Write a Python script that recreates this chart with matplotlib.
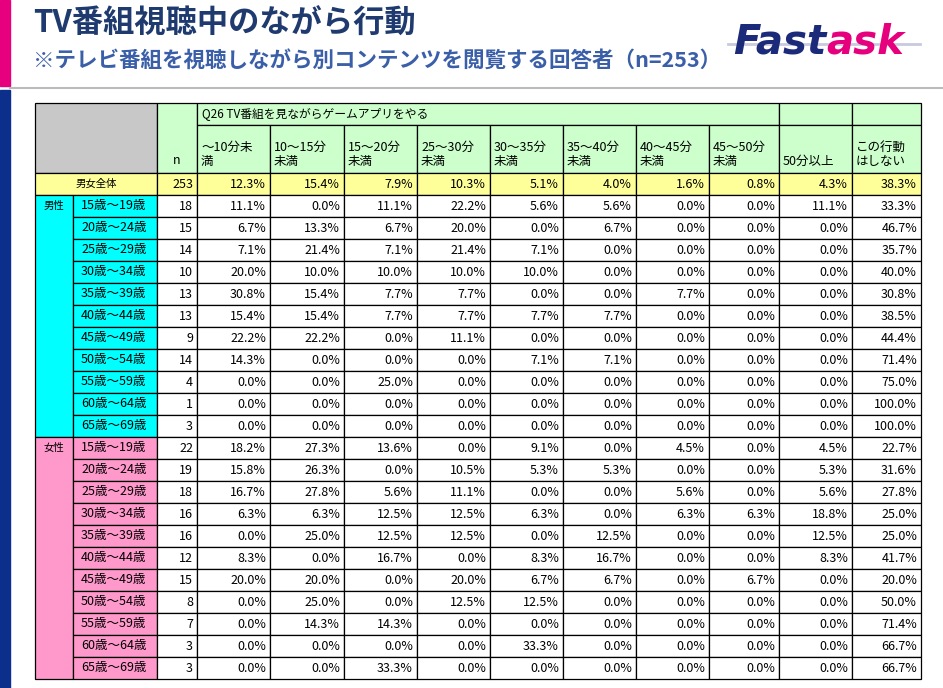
import matplotlib
matplotlib.use("Agg")
import matplotlib.pyplot as plt
from matplotlib.patches import Rectangle

plt.rcParams['font.family'] = ['Noto Sans CJK JP', 'DejaVu Sans']

title = "TV番組視聴中のながら行動"
subtitle = "※テレビ番組を視聴しながら別コンテンツを閲覧する回答者（n=253）"
question = "Q26 TV番組を見ながらゲームアプリをやる"
col_labels = ["～10分未\n満", "10～15分\n未満", "15～20分\n未満", "25～30分\n未満", "30～35分\n未満",
              "35～40分\n未満", "40～45分\n未満", "45～50分\n未満", "50分以上", "この行動\nはしない"]
ages = ["15歳～19歳", "20歳～24歳", "25歳～29歳", "30歳～34歳", "35歳～39歳", "40歳～44歳",
        "45歳～49歳", "50歳～54歳", "55歳～59歳", "60歳～64歳", "65歳～69歳"]
total_n = 253
total_vals = [12.3, 15.4, 7.9, 10.3, 5.1, 4.0, 1.6, 0.8, 4.3, 38.3]
male_n = [18, 15, 14, 10, 13, 13, 9, 14, 4, 1, 3]
male_vals = [
    [11.1, 0.0, 11.1, 22.2, 5.6, 5.6, 0.0, 0.0, 11.1, 33.3],
    [6.7, 13.3, 6.7, 20.0, 0.0, 6.7, 0.0, 0.0, 0.0, 46.7],
    [7.1, 21.4, 7.1, 21.4, 7.1, 0.0, 0.0, 0.0, 0.0, 35.7],
    [20.0, 10.0, 10.0, 10.0, 10.0, 0.0, 0.0, 0.0, 0.0, 40.0],
    [30.8, 15.4, 7.7, 7.7, 0.0, 0.0, 7.7, 0.0, 0.0, 30.8],
    [15.4, 15.4, 7.7, 7.7, 7.7, 7.7, 0.0, 0.0, 0.0, 38.5],
    [22.2, 22.2, 0.0, 11.1, 0.0, 0.0, 0.0, 0.0, 0.0, 44.4],
    [14.3, 0.0, 0.0, 0.0, 7.1, 7.1, 0.0, 0.0, 0.0, 71.4],
    [0.0, 0.0, 25.0, 0.0, 0.0, 0.0, 0.0, 0.0, 0.0, 75.0],
    [0.0, 0.0, 0.0, 0.0, 0.0, 0.0, 0.0, 0.0, 0.0, 100.0],
    [0.0, 0.0, 0.0, 0.0, 0.0, 0.0, 0.0, 0.0, 0.0, 100.0],
]
female_n = [22, 19, 18, 16, 16, 12, 15, 8, 7, 3, 3]
female_vals = [
    [18.2, 27.3, 13.6, 0.0, 9.1, 0.0, 4.5, 0.0, 4.5, 22.7],
    [15.8, 26.3, 0.0, 10.5, 5.3, 5.3, 0.0, 0.0, 5.3, 31.6],
    [16.7, 27.8, 5.6, 11.1, 0.0, 0.0, 5.6, 0.0, 5.6, 27.8],
    [6.3, 6.3, 12.5, 12.5, 6.3, 0.0, 6.3, 6.3, 18.8, 25.0],
    [0.0, 25.0, 12.5, 12.5, 0.0, 12.5, 0.0, 0.0, 12.5, 25.0],
    [8.3, 0.0, 16.7, 0.0, 8.3, 16.7, 0.0, 0.0, 8.3, 41.7],
    [20.0, 20.0, 0.0, 20.0, 6.7, 6.7, 0.0, 6.7, 0.0, 20.0],
    [0.0, 25.0, 0.0, 12.5, 12.5, 0.0, 0.0, 0.0, 0.0, 50.0],
    [0.0, 14.3, 14.3, 0.0, 0.0, 0.0, 0.0, 0.0, 0.0, 71.4],
    [0.0, 0.0, 0.0, 0.0, 33.3, 0.0, 0.0, 0.0, 0.0, 66.7],
    [0.0, 0.0, 33.3, 0.0, 0.0, 0.0, 0.0, 0.0, 0.0, 66.7],
]

W, H = 943, 688
fig = plt.figure(figsize=(W / 100, H / 100), dpi=100)
ax = fig.add_axes([0, 0, 1, 1])
ax.set_xlim(0, W); ax.set_ylim(H, 0); ax.axis('off')

ax.add_patch(Rectangle((0, 0), 10, 86, color="#e6007e"))
ax.add_patch(Rectangle((0, 90), 10, H - 90, color="#0d2f8c"))
ax.plot([10, W], [88, 88], color="#bbbbbb", lw=1.5)
ax.text(33, 24, title, fontsize=22.5, fontweight='bold', color="#1f3a6e", va='center')
ax.text(33, 60, subtitle, fontsize=15.5, fontweight='bold', color="#3a5fa8", va='center')
ax.plot([728, 920], [44, 44], color="#c9c9e0", lw=2, zorder=0)
ax.text(826, 42, "Fast", fontsize=29, fontweight='bold', style='italic', color="#1c2a7a",
        va='center', ha='right', family=['DejaVu Sans'])
ax.text(826, 42, "ask", fontsize=29, fontweight='bold', style='italic', color="#e6007e",
        va='center', ha='left', family=['DejaVu Sans'])

colx = [197, 270, 344, 417, 490, 563, 636, 709, 779, 852, 921]
x0, xg, xa, xn = 35, 73, 157, 197
y_h1, y_h2, y_tot = 103, 125, 173
rh = 22.0
lw = 0.9
FS = 9
GREEN = "#ccffcc"

def cell(x, y, w, h, fc):
    ax.add_patch(Rectangle((x, y), w, h, facecolor=fc, edgecolor='black', lw=lw))

cell(x0, y_h1, xa - x0, y_tot - y_h1, "#c8c8c8")
cell(xa, y_h1, xn - xa, y_tot - y_h1, GREEN)
cell(xn, y_h1, colx[8] - xn, y_h2 - y_h1, GREEN)
cell(colx[8], y_h1, colx[9] - colx[8], y_h2 - y_h1, GREEN)
cell(colx[9], y_h1, colx[10] - colx[9], y_h2 - y_h1, GREEN)
ax.text(xn + 5, (y_h1 + y_h2) / 2, question, fontsize=8.5, va='center')
ax.text(xa + 20, y_tot - 12, "n", fontsize=FS, va='center', ha='center')
for i, lab in enumerate(col_labels):
    cell(colx[i], y_h2, colx[i + 1] - colx[i], y_tot - y_h2, GREEN)
    ax.text(colx[i] + 4, y_tot - 5, lab, fontsize=FS, va='bottom', ha='left', linespacing=1.1)

YEL = "#ffff99"
cell(x0, y_tot, xa - x0, rh, YEL)
ax.text((x0 + xa) / 2, y_tot + rh / 2, "男女全体", fontsize=7.5, ha='center', va='center')
cell(xa, y_tot, xn - xa, rh, YEL)
ax.text(xn - 4, y_tot + rh / 2, str(total_n), fontsize=FS, ha='right', va='center')
for i, v in enumerate(total_vals):
    cell(colx[i], y_tot, colx[i + 1] - colx[i], rh, YEL)
    ax.text(colx[i + 1] - 4, y_tot + rh / 2, f"{v:.1f}%", fontsize=FS, ha='right', va='center')

def block(y_start, label, color, ns, vals):
    n = len(ns)
    cell(x0, y_start, xg - x0, rh * n, color)
    ax.text((x0 + xg) / 2, y_start + rh / 2, label, fontsize=7.5, ha='center', va='center')
    for r in range(n):
        y = y_start + r * rh
        cell(xg, y, xa - xg, rh, color)
        ax.text(xg + 8, y + rh / 2, ages[r], fontsize=FS, ha='left', va='center')
        cell(xa, y, xn - xa, rh, "white")
        ax.text(xn - 4, y + rh / 2, str(ns[r]), fontsize=FS, ha='right', va='center')
        for i, v in enumerate(vals[r]):
            cell(colx[i], y, colx[i + 1] - colx[i], rh, "white")
            ax.text(colx[i + 1] - 4, y + rh / 2, f"{v:.1f}%", fontsize=FS, ha='right', va='center')

y_m = y_tot + rh
block(y_m, "男性", "#00ffff", male_n, male_vals)
y_f = y_m + rh * len(male_n)
block(y_f, "女性", "#ff99cc", female_n, female_vals)

fig.savefig("out.png", dpi=100)
